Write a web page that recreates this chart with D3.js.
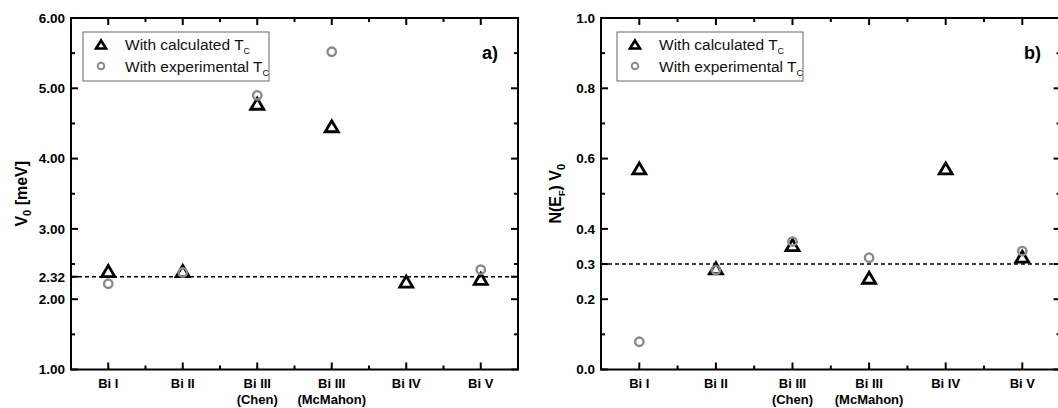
<!DOCTYPE html>
<html>
<head>
<meta charset="utf-8">
<script src="https://cdn.jsdelivr.net/npm/d3@7"></script>
<style>
  html, body { margin: 0; padding: 0; background: #fff; overflow: hidden; }
  svg { display: block; }
  text { font-family: "Liberation Sans", Arial, sans-serif; }
</style>
</head>
<body>
<svg id="chart" width="1058" height="408"></svg>
<script>
// ---------- data ----------
const categories = [["Bi I"], ["Bi II"], ["Bi III", "(Chen)"], ["Bi III", "(McMahon)"], ["Bi IV"], ["Bi V"]];
const v0Calculated   = [2.40, 2.40, 4.78, 4.46, 2.25, 2.29];
const v0Experimental = [2.22, 2.38, 4.90, 5.52, null, 2.42];
const nvCalculated   = [0.572, 0.288, 0.354, 0.261, 0.572, 0.321];
const nvExperimental = [0.079, 0.283, 0.364, 0.318, null, 0.337];
const v0TickValues = [1, 2, 2.32, 3, 4, 5, 6];
const v0TickLabels = ["1.00", "2.00", "2.32", "3.00", "4.00", "5.00", "6.00"];
const v0MinorTicks = [1.5, 2.5, 3.5, 4.5, 5.5];
const nvTickValues = [0, 0.2, 0.3, 0.4, 0.6, 0.8, 1.0];
const nvTickLabels = ["0.0", "0.2", "0.3", "0.4", "0.6", "0.8", "1.0"];
const nvMinorTicks = [0.1, 0.5, 0.7, 0.9];
const v0Reference = 2.32;
const nvReference = 0.3;
const legendLabels = ["With calculated T", "With experimental T"];

const svg = d3.select("#chart");

function trianglePath(cx, cy, w, h) {
  return `M${cx},${cy - h / 2}L${cx + w / 2},${cy + h / 2}L${cx - w / 2},${cy + h / 2}Z`;
}

function drawPanel(cfg) {
  const g = svg.append("g");
  const x = d3.scaleLinear().domain([0.5, categories.length + 0.5]).range([cfg.left, cfg.right]);
  const y = d3.scaleLinear().domain(cfg.domain).range([cfg.bottom, cfg.top]);
  const idx = d3.range(1, categories.length + 1);
  const xMinor = d3.range(1.5, categories.length, 1);

  // axes frame
  g.append("rect").attr("x", cfg.left).attr("y", cfg.top)
    .attr("width", cfg.right - cfg.left).attr("height", cfg.bottom - cfg.top)
    .attr("fill", "none").attr("stroke", "#000").attr("stroke-width", 2);

  const tk = g.append("g").attr("stroke", "#000").attr("stroke-width", 2);
  idx.forEach(v => {
    tk.append("line").attr("x1", x(v)).attr("x2", x(v)).attr("y1", cfg.bottom).attr("y2", cfg.bottom - 7);
    tk.append("line").attr("x1", x(v)).attr("x2", x(v)).attr("y1", cfg.top).attr("y2", cfg.top + 7);
  });
  xMinor.forEach(v => {
    tk.append("line").attr("x1", x(v)).attr("x2", x(v)).attr("y1", cfg.bottom).attr("y2", cfg.bottom - 4);
    tk.append("line").attr("x1", x(v)).attr("x2", x(v)).attr("y1", cfg.top).attr("y2", cfg.top + 4);
  });
  cfg.ticks.forEach(v => {
    tk.append("line").attr("x1", cfg.left).attr("x2", cfg.left + 7).attr("y1", y(v)).attr("y2", y(v));
    tk.append("line").attr("x1", cfg.right).attr("x2", cfg.right - 7).attr("y1", y(v)).attr("y2", y(v));
  });
  cfg.minor.forEach(v => {
    tk.append("line").attr("x1", cfg.left).attr("x2", cfg.left + 4).attr("y1", y(v)).attr("y2", y(v));
    tk.append("line").attr("x1", cfg.right).attr("x2", cfg.right - 4).attr("y1", y(v)).attr("y2", y(v));
  });

  // y tick labels
  g.append("g").selectAll("text").data(cfg.ticks).join("text")
    .attr("x", cfg.left - 6).attr("y", d => y(d)).attr("dy", "0.36em")
    .attr("text-anchor", "end").attr("font-size", 13.5).attr("font-weight", "bold")
    .text((d, i) => cfg.tickLabels[i]);

  // x tick labels
  const xl = g.append("g").selectAll("text").data(categories).join("text")
    .attr("text-anchor", "middle").attr("font-size", 13).attr("font-weight", "bold");
  xl.each(function (lines, i) {
    const t = d3.select(this);
    lines.forEach((s, j) => {
      t.append("tspan").attr("x", x(i + 1)).attr("y", cfg.bottom + 18 + j * 16).text(s);
    });
  });

  // y title
  const yt = g.append("text")
    .attr("transform", `translate(${cfg.titleX},${(cfg.top + cfg.bottom) / 2}) rotate(-90)`)
    .attr("text-anchor", "middle").attr("font-size", 16).attr("font-weight", "bold");
  cfg.title(yt);

  // reference dashed line
  g.append("line").attr("x1", cfg.left).attr("x2", cfg.right)
    .attr("y1", y(cfg.ref)).attr("y2", y(cfg.ref))
    .attr("stroke", "#000").attr("stroke-width", 1.6).attr("stroke-dasharray", "4,3");

  // data: triangles (calculated)
  g.append("g").selectAll("path")
    .data(cfg.calc.map((v, i) => ({ v, i })).filter(d => d.v != null)).join("path")
    .attr("d", d => trianglePath(x(d.i + 1), y(d.v), 13, 11))
    .attr("fill", "none").attr("stroke", "#000").attr("stroke-width", 2.8)
    .attr("stroke-linejoin", "miter");
  // data: circles (experimental)
  g.append("g").selectAll("circle")
    .data(cfg.exp.map((v, i) => ({ v, i })).filter(d => d.v != null)).join("circle")
    .attr("cx", d => x(d.i + 1)).attr("cy", d => y(d.v)).attr("r", 4.2)
    .attr("fill", "none").attr("stroke", "#8a8a8a").attr("stroke-width", 2.4);

  // legend
  const lg = g.append("g");
  lg.append("rect").attr("x", cfg.legendX).attr("y", 32).attr("width", 186).attr("height", 49)
    .attr("fill", "#fff").attr("stroke", "#666").attr("stroke-width", 1);
  lg.append("path").attr("d", trianglePath(cfg.legendX + 18, 44.5, 10, 8))
    .attr("fill", "none").attr("stroke", "#000").attr("stroke-width", 2.6);
  lg.append("circle").attr("cx", cfg.legendX + 18).attr("cy", 66).attr("r", 3.3)
    .attr("fill", "none").attr("stroke", "#8a8a8a").attr("stroke-width", 2);
  legendLabels.forEach((s, i) => {
    const t = lg.append("text").attr("x", cfg.legendX + 42).attr("y", 50 + i * 22)
      .attr("font-size", 15.5).attr("fill", "#111");
    t.append("tspan").text(s);
    t.append("tspan").attr("font-size", 9).attr("dy", 4).text("C");
  });

  // panel label
  g.append("text").attr("x", cfg.labelX).attr("y", 59).attr("text-anchor", "end")
    .attr("font-size", 18).attr("font-weight", "bold").text(cfg.label);
}

drawPanel({
  left: 71, right: 518, top: 18, bottom: 369.5,
  domain: [1, 6], ticks: v0TickValues, tickLabels: v0TickLabels, minor: v0MinorTicks,
  ref: v0Reference, calc: v0Calculated, exp: v0Experimental,
  titleX: 27, legendX: 83, label: "a)", labelX: 498,
  title: t => {
    t.append("tspan").text("V");
    t.append("tspan").attr("font-size", 11).attr("dy", 4).text("0");
    t.append("tspan").attr("dy", -4).text(" [meV]");
  }
});

drawPanel({
  left: 601, right: 1060.6, top: 18, bottom: 369.5,
  domain: [0, 1], ticks: nvTickValues, tickLabels: nvTickLabels, minor: nvMinorTicks,
  ref: nvReference, calc: nvCalculated, exp: nvExperimental,
  titleX: 561, legendX: 617, label: "b)", labelX: 1041,
  title: t => {
    t.append("tspan").text("N(E");
    t.append("tspan").attr("font-size", 9).attr("dy", 4).text("F");
    t.append("tspan").attr("dy", -4).text(") V");
    t.append("tspan").attr("font-size", 11).attr("dy", 4).text("0");
  }
});
</script>
</body>
</html>
